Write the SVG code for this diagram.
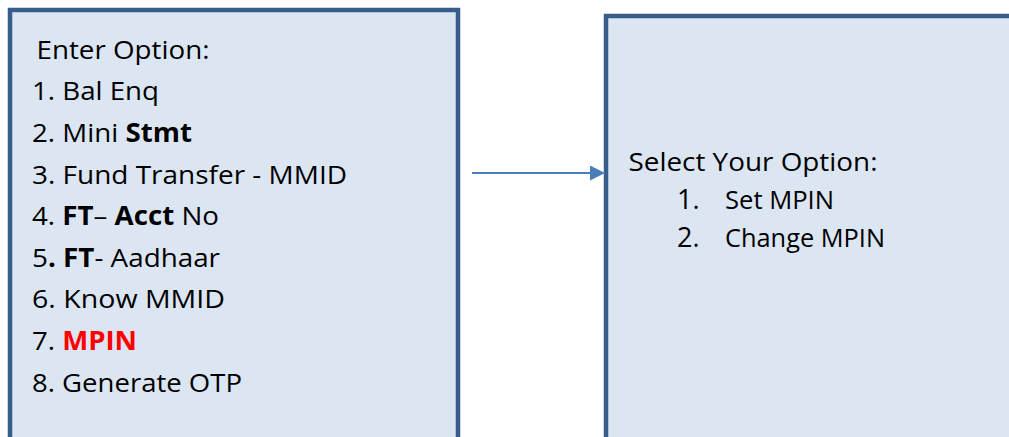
<svg xmlns="http://www.w3.org/2000/svg" width="1009" height="437" viewBox="0 0 1009 437">
<defs>
<style>
.box{fill:#dce6f2;stroke:#385d8a;stroke-width:4.5}
.t{font-family:"Open Sans","Noto Sans","Liberation Sans",sans-serif;font-size:26px;fill:#000}
.n{font-size:27px}
.b{font-weight:bold}
.red{fill:#ff0000;font-weight:bold}
.conn{stroke:#4a7ebb;stroke-width:2;fill:none}
</style>
<marker id="ah" markerWidth="15" markerHeight="15" refX="15" refY="7.5" orient="auto" markerUnits="userSpaceOnUse">
<polygon points="0,0 15,7.5 0,15" fill="#4a7ebb"/>
</marker>
</defs>
<rect width="1009" height="437" fill="#fff"/>
<g id="menu">
<rect class="box" x="10" y="10" width="448" height="440"/>
<text class="t" x="36.5" y="58.5" textLength="173" lengthAdjust="spacingAndGlyphs">Enter Option:</text>
<text class="t" x="32" y="100" textLength="127" lengthAdjust="spacingAndGlyphs">1. Bal Enq</text>
<text class="t" x="32" y="142" textLength="160" lengthAdjust="spacingAndGlyphs">2. Mini <tspan class="b">Stmt</tspan></text>
<text class="t" x="32" y="184" textLength="315" lengthAdjust="spacingAndGlyphs">3. Fund Transfer - MMID</text>
<text class="t" x="32" y="225" textLength="187" lengthAdjust="spacingAndGlyphs">4. <tspan class="b">FT</tspan>– <tspan class="b">Acct</tspan> No</text>
<text class="t" x="32" y="267" textLength="188" lengthAdjust="spacingAndGlyphs">5<tspan class="b">. FT</tspan>- Aadhaar</text>
<text class="t" x="32" y="308" textLength="193" lengthAdjust="spacingAndGlyphs">6. Know MMID</text>
<text class="t" x="32" y="350" textLength="105" lengthAdjust="spacingAndGlyphs">7. <tspan class="red">MPIN</tspan></text>
<text class="t" x="32" y="392" textLength="210" lengthAdjust="spacingAndGlyphs">8. Generate OTP</text>
</g>
<g id="mpin">
<rect class="box" x="606" y="16" width="420" height="440"/>
<text class="t" x="628.5" y="170.5" textLength="249" lengthAdjust="spacingAndGlyphs">Select Your Option:</text>
<text class="t n" x="677" y="209">1.</text>
<text class="t" x="725" y="209" textLength="109" lengthAdjust="spacingAndGlyphs">Set MPIN</text>
<text class="t n" x="677" y="247">2.</text>
<text class="t" x="725" y="247" textLength="160" lengthAdjust="spacingAndGlyphs">Change MPIN</text>
</g>
<g id="connectors">
<line class="conn" x1="472" y1="173" x2="605" y2="173" marker-end="url(#ah)"/>
</g>
</svg>
